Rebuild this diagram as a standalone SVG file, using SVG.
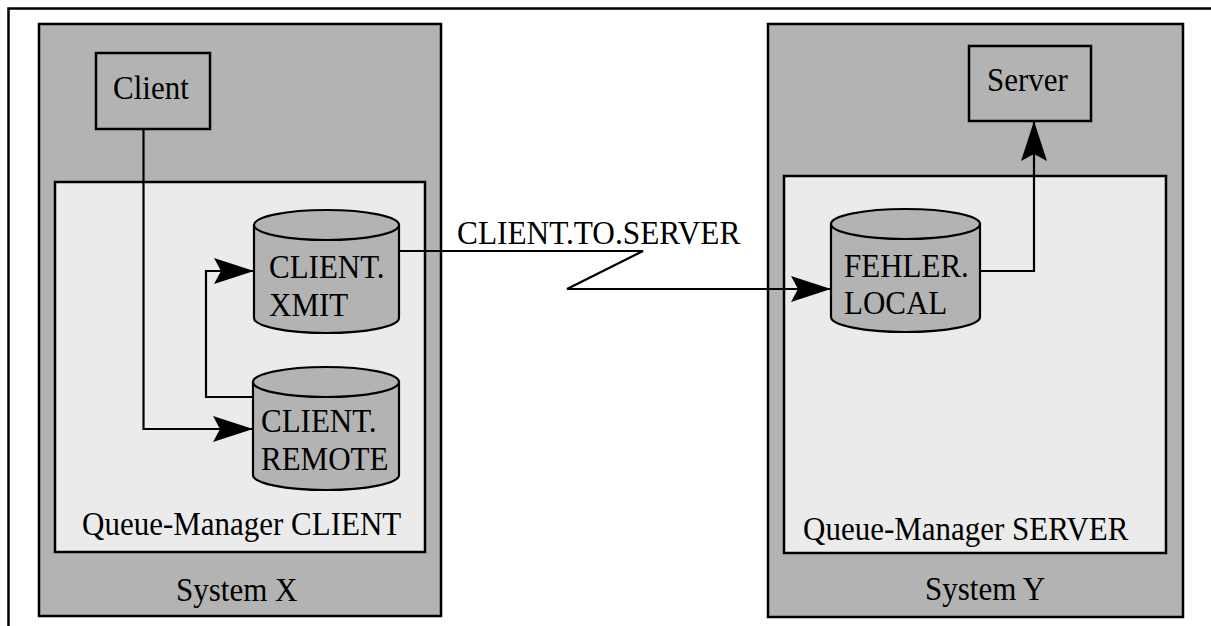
<svg xmlns="http://www.w3.org/2000/svg" width="1211" height="626" viewBox="0 0 1211 626">
<defs>
<style>
.sys{fill:#b3b3b3;stroke:#000;stroke-width:2.5}
.qm{fill:#ebebeb;stroke:#000;stroke-width:2.5}
.box{fill:#b3b3b3;stroke:#000;stroke-width:2.5}
.cyl{fill:#b3b3b3;stroke:#000;stroke-width:2.2}
.conn{fill:none;stroke:#000;stroke-width:2.2}
text{font-family:"Liberation Serif","Times New Roman",serif;font-size:31px;fill:#000}
</style>
<marker id="ah" markerUnits="userSpaceOnUse" markerWidth="42" markerHeight="28" refX="40" refY="13" orient="auto" viewBox="0 0 42 28">
<path d="M0,0 L40,13 L0,26 L7,13 Z" fill="#000"/>
</marker>
</defs>
<rect x="8.5" y="8.5" width="1300" height="700" fill="#fff" stroke="#000" stroke-width="2.5"/>
<g id="systemX">
<rect class="sys" x="39" y="24" width="402" height="592"/>
<text transform="matrix(1,0,0,1.07,176,601)">System X</text>
</g>
<g id="systemY">
<rect class="sys" x="768" y="24" width="415" height="593"/>
<text transform="matrix(1,0,0,1.07,925,600)">System Y</text>
</g>
<g id="qmClient">
<rect class="qm" x="55" y="182" width="370" height="370"/>
<text transform="matrix(1,0,0,1.07,82,535)">Queue-Manager CLIENT</text>
</g>
<g id="qmServer">
<rect class="qm" x="784" y="176" width="382" height="377"/>
<text transform="matrix(1,0,0,1.07,803,540)">Queue-Manager SERVER</text>
</g>
<g id="client">
<rect class="box" x="96" y="53" width="114" height="76"/>
<text transform="matrix(1,0,0,1.07,113,99)">Client</text>
</g>
<g id="server">
<rect class="box" x="969" y="46" width="122" height="75"/>
<text transform="matrix(1,0,0,1.07,987,91)">Server</text>
</g>
<g id="xmit">
<path class="cyl" d="M254,225 L254,318 A72.5,15 0 0 0 399,318 L399,225 Z"/>
<ellipse class="cyl" cx="326.5" cy="225" rx="72.5" ry="15"/>
<text transform="matrix(1,0,0,1.07,269,278)">CLIENT.</text>
<text transform="matrix(1,0,0,1.07,269,316)">XMIT</text>
</g>
<g id="remote">
<path class="cyl" d="M253,382 L253,475 A73,15 0 0 0 399,475 L399,382 Z"/>
<ellipse class="cyl" cx="326" cy="382" rx="73" ry="15"/>
<text transform="matrix(1,0,0,1.07,261,432)">CLIENT.</text>
<text transform="matrix(1,0,0,1.07,261,470)">REMOTE</text>
</g>
<g id="fehler">
<path class="cyl" d="M831,224 L831,317 A74.5,15 0 0 0 980,317 L980,224 Z"/>
<ellipse class="cyl" cx="905.5" cy="224" rx="74.5" ry="15"/>
<text transform="matrix(1,0,0,1.07,844,277)">FEHLER.</text>
<text transform="matrix(1,0,0,1.07,844,314)">LOCAL</text>
</g>
<g id="connectors">
<path class="conn" d="M143.5,129 V429 H253" marker-end="url(#ah)"/>
<path class="conn" d="M253,397 H206 V271 H254" marker-end="url(#ah)"/>
<path class="conn" d="M399,251 H643 L567,289 H831" marker-end="url(#ah)"/>
<path class="conn" d="M980,271 H1034 V121" marker-end="url(#ah)"/>
<text transform="matrix(1.01,0,0,1.07,457,244)">CLIENT.TO.SERVER</text>
</g>
</svg>
